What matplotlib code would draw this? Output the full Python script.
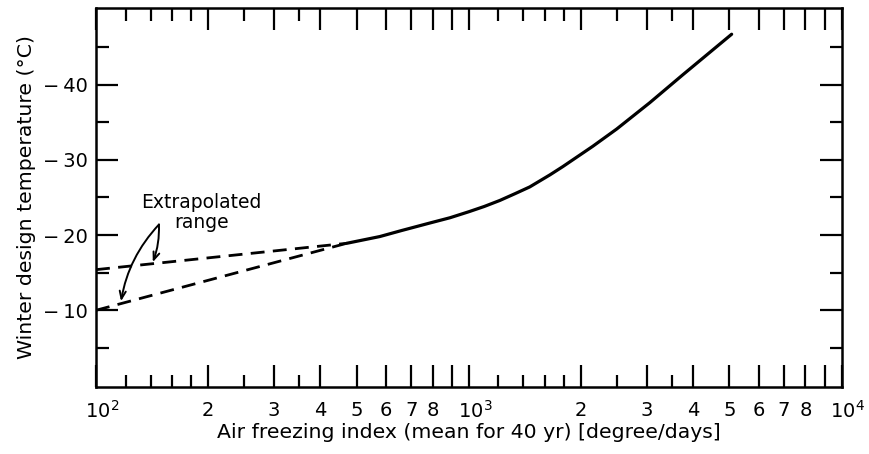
import numpy as np
import matplotlib
matplotlib.use("Agg")
import matplotlib.pyplot as plt
import matplotlib.transforms as mtransforms
from matplotlib.ticker import FixedLocator, FixedFormatter, NullFormatter

# solid design curve (air freezing index vs winter design temperature)
curve_x = [470, 577, 660, 786, 890, 1000, 1100, 1211, 1330, 1457, 1650, 1787,
           2150, 2493, 3058, 3748, 5070]
curve_y = [-18.9, -19.8, -20.6, -21.6, -22.3, -23.1, -23.8, -24.6, -25.5, -26.4,
           -28.0, -29.1, -31.8, -34.1, -37.6, -41.3, -46.7]

# extrapolated range (dashed)
upper_x = [100, 470]
upper_y = [-15.4, -18.9]
lower_x = [100, 470]
lower_y = [-10.0, -18.9]

# ticks
major_x = [100, 200, 300, 400, 500, 600, 700, 800, 900,
           1000, 2000, 3000, 4000, 5000, 6000, 7000, 8000, 9000, 10000]
major_xlabels = ['', '2', '3', '4', '5', '6', '7', '8', '',
                 '', '2', '3', '4', '5', '6', '7', '8', '', '']
decade_x = [100, 1000, 10000]
decade_labels = ['$10^2$', '$10^3$', '$10^4$']
minor_x = [120, 140, 160, 180, 250, 350, 1200, 1400, 1600, 1800, 2500, 3500]
major_y = [-10, -20, -30, -40]
major_ylabels = ['\u2212\u200910', '\u2212\u200920', '\u2212\u200930', '\u2212\u200940']
minor_y = [-5, -15, -25, -35, -45]

plt.rcParams['font.family'] = ['DejaVu Sans']
plt.rcParams['mathtext.fontset'] = 'dejavusans'

fig = plt.figure(figsize=(8.69, 4.54), dpi=100)
ax = fig.add_axes([0.1105, 0.1476, 0.858, 0.835])

ax.plot(curve_x, curve_y, color='black', lw=2.3, solid_capstyle='round')
ax.plot(upper_x, upper_y, color='black', lw=2.0, dashes=(5, 3))
ax.plot(lower_x, lower_y, color='black', lw=2.0, dashes=(5, 3))

ax.set_xscale('log')
ax.set_xlim(100, 10000)
ax.set_ylim(0.2, -50.2)

ax.xaxis.set_major_locator(FixedLocator(major_x))
ax.xaxis.set_major_formatter(FixedFormatter(major_xlabels))
ax.xaxis.set_minor_locator(FixedLocator(minor_x))
ax.xaxis.set_minor_formatter(NullFormatter())
ax.yaxis.set_major_locator(FixedLocator(major_y))
ax.yaxis.set_major_formatter(FixedFormatter(major_ylabels))
ax.yaxis.set_minor_locator(FixedLocator(minor_y))

ax.tick_params(which='both', direction='in', top=True, right=True, width=1.6,
               labelsize=14)
ax.tick_params(which='major', length=16, pad=10)
ax.tick_params(which='minor', length=9)
ax.tick_params(axis='y', which='major', pad=6)

for s in ax.spines.values():
    s.set_linewidth(1.8)

# decade labels sit slightly right of their tick, as in the original
trans = ax.get_xaxis_transform() + mtransforms.ScaledTranslation(6 / 100, 0, fig.dpi_scale_trans)
for xv, lab in zip(decade_x, decade_labels):
    ax.text(xv, -0.063, lab, transform=trans, ha='center', va='center', fontsize=14)

ax.set_xlabel('Air freezing index (mean for 40 yr) [degree/days]', fontsize=14.7, labelpad=2)
ax.set_ylabel('Winter design temperature (\u00b0C)', fontsize=14.7, labelpad=5)

ax.text(192, -23.0, 'Extrapolated\nrange', ha='center', va='center',
        multialignment='center', fontsize=13.5, linespacing=1.05)
ax.annotate('', xy=(142, -16.4), xytext=(147.5, -21.4),
            arrowprops=dict(arrowstyle='->,head_length=0.55,head_width=0.22', lw=1.4,
                            color='black', connectionstyle='arc3,rad=-0.1',
                            shrinkA=0, shrinkB=0))
ax.annotate('', xy=(116.7, -11.2), xytext=(147.5, -21.4),
            arrowprops=dict(arrowstyle='->,head_length=0.55,head_width=0.22', lw=1.4,
                            color='black', connectionstyle='arc3,rad=0.15',
                            shrinkA=0, shrinkB=0))

fig.savefig('out.png', dpi=100)
